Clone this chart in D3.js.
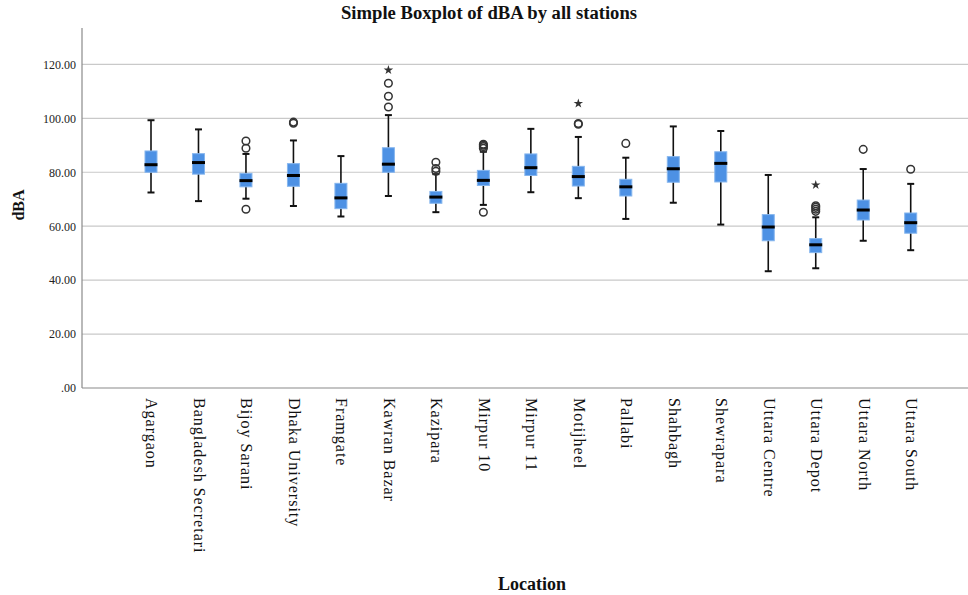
<!DOCTYPE html>
<html>
<head>
<meta charset="utf-8">
<script src="https://cdn.jsdelivr.net/npm/d3@7"></script>
<style>
  html, body { margin: 0; padding: 0; background: #fff; }
  svg { display: block; }
</style>
</head>
<body>
<svg id="chart" width="968" height="595"></svg>
<script>
const categories = ["Agargaon", "Bangladesh Secretari", "Bijoy Sarani", "Dhaka University", "Framgate",
  "Kawran Bazar", "Kazipara", "Mirpur 10", "Mirpur 11", "Motijheel", "Pallabi", "Shahbagh",
  "Shewrapara", "Uttara Centre", "Uttara Depot", "Uttara North", "Uttara South"];
const whiskerLow  = [72.5, 69.3, 70.2, 67.5, 63.6, 71.2, 65.2, 67.9, 72.6, 70.4, 62.7, 68.7, 60.6, 43.3, 44.4, 54.6, 51.1];
const q1          = [80.0, 79.3, 74.6, 74.8, 66.5, 80.0, 68.5, 75.1, 78.8, 74.9, 71.2, 76.3, 76.4, 54.6, 50.2, 62.3, 57.4];
const median      = [82.8, 83.6, 76.9, 78.8, 70.5, 83.0, 70.8, 77.0, 81.7, 78.4, 74.6, 81.3, 83.3, 59.7, 53.1, 66.0, 61.3];
const q3          = [87.9, 86.9, 79.6, 83.2, 75.9, 89.1, 72.9, 80.7, 86.8, 82.2, 77.4, 85.8, 87.6, 64.3, 55.4, 69.7, 64.9];
const whiskerHigh = [99.3, 95.9, 86.8, 91.8, 86.0, 101.2, 79.3, 87.6, 96.1, 93.1, 85.4, 97.0, 95.3, 79.0, 63.3, 81.2, 75.7];
const outliers = [
  [], [], [91.6, 88.9, 66.3], [98.6, 98.2], [], [104.2, 108.2, 113.0], [80.4, 81.4, 83.7],
  [88.9, 89.5, 90.0, 90.4, 65.2], [], [98.1, 97.8], [90.7], [], [], [], [65.5, 66.3, 67.0, 67.6], [88.5], [81.1]
];
const extremes = [[], [], [], [], [], [117.9], [], [], [], [105.5], [], [], [], [], [75.3], [], []];
const yTicks = [0, 20, 40, 60, 80, 100, 120];

const svg = d3.select("#chart");
const mLeft = 82, mRight = 968, mTop = 28, mBottom = 388;

const y = d3.scaleLinear().domain([0, 133.5]).range([mBottom, mTop]);
const x = d3.scalePoint().domain(categories).range([151, 910.7]);

const serif = "'Liberation Serif', 'Times New Roman', serif";

// gridlines
svg.append("g").selectAll("line").data(yTicks.filter(d => d > 0)).join("line")
  .attr("x1", mLeft).attr("x2", mRight)
  .attr("y1", d => y(d)).attr("y2", d => y(d))
  .attr("stroke", "#c9c9c9").attr("stroke-width", 1.2);

// y axis
const yAxis = d3.axisLeft(y).tickValues(yTicks).tickSize(0).tickPadding(6)
  .tickFormat(d => d === 0 ? ".00" : d3.format(".2f")(d));
const gy = svg.append("g").attr("transform", `translate(${mLeft},0)`).call(yAxis);
gy.select(".domain").remove();
gy.selectAll("text").attr("font-family", serif).attr("font-size", 12).attr("fill", "#222");

// x axis
const xAxis = d3.axisBottom(x).tickSize(0).tickPadding(0);
const gx = svg.append("g").attr("transform", `translate(0,${mBottom})`).call(xAxis);
gx.select(".domain").remove();
gx.selectAll("text")
  .attr("font-family", serif).attr("font-size", 16).attr("fill", "#111")
  .attr("letter-spacing", 1)
  .attr("text-anchor", "start")
  .attr("transform", "rotate(90)")
  .attr("x", 10).attr("y", 0).attr("dy", "0.32em");

// axis lines
svg.append("line").attr("x1", mLeft).attr("x2", mLeft).attr("y1", mTop).attr("y2", mBottom)
  .attr("stroke", "#8a8a8a").attr("stroke-width", 1.2);
svg.append("line").attr("x1", mLeft).attr("x2", mRight).attr("y1", mBottom).attr("y2", mBottom)
  .attr("stroke", "#8a8a8a").attr("stroke-width", 1.2);

// boxes
const data = categories.map((c, i) => ({
  c, lo: whiskerLow[i], q1: q1[i], med: median[i], q3: q3[i], hi: whiskerHigh[i],
  out: outliers[i], ext: extremes[i]
}));
const bw = 12, cw = 7;
const g = svg.append("g").selectAll("g").data(data).join("g")
  .attr("transform", d => `translate(${x(d.c)},0)`);

g.append("line").attr("x1", 0).attr("x2", 0)
  .attr("y1", d => y(d.hi)).attr("y2", d => y(d.lo))
  .attr("stroke", "#111").attr("stroke-width", 1.6);
g.append("line").attr("x1", -cw / 2).attr("x2", cw / 2)
  .attr("y1", d => y(d.hi)).attr("y2", d => y(d.hi))
  .attr("stroke", "#111").attr("stroke-width", 2);
g.append("line").attr("x1", -cw / 2).attr("x2", cw / 2)
  .attr("y1", d => y(d.lo)).attr("y2", d => y(d.lo))
  .attr("stroke", "#111").attr("stroke-width", 2);
g.append("rect").attr("x", -bw / 2).attr("width", bw)
  .attr("y", d => y(d.q3)).attr("height", d => y(d.q1) - y(d.q3))
  .attr("fill", "#4d91e4").attr("stroke", "#86b6ee").attr("stroke-width", 1);
g.append("line").attr("x1", -bw / 2 - 0.5).attr("x2", bw / 2 + 0.5)
  .attr("y1", d => y(d.med)).attr("y2", d => y(d.med))
  .attr("stroke", "#000").attr("stroke-width", 3);

g.selectAll("circle").data(d => d.out).join("circle")
  .attr("cx", 0).attr("cy", v => y(v)).attr("r", 3.8)
  .attr("fill", "none").attr("stroke", "#333").attr("stroke-width", 1.5);

const star = d3.symbol().type(d3.symbolStar).size(28);
g.selectAll("path.star").data(d => d.ext).join("path").attr("class", "star")
  .attr("d", star).attr("transform", v => `translate(0,${y(v)})`)
  .attr("fill", "#333");

// titles
svg.append("text").attr("x", 489).attr("y", 19).attr("text-anchor", "middle")
  .attr("font-family", serif).attr("font-weight", "bold").attr("font-size", 18)
  .attr("textLength", 296).attr("lengthAdjust", "spacingAndGlyphs")
  .attr("fill", "#111").text("Simple Boxplot of dBA by all stations");
svg.append("text").attr("x", 532).attr("y", 590).attr("text-anchor", "middle")
  .attr("font-family", serif).attr("font-weight", "bold").attr("font-size", 18)
  .attr("fill", "#111").text("Location");
svg.append("text").attr("transform", "translate(24,205) rotate(-90)").attr("text-anchor", "middle")
  .attr("font-family", serif).attr("font-weight", "bold").attr("font-size", 16)
  .attr("fill", "#111").text("dBA");
</script>
</body>
</html>
